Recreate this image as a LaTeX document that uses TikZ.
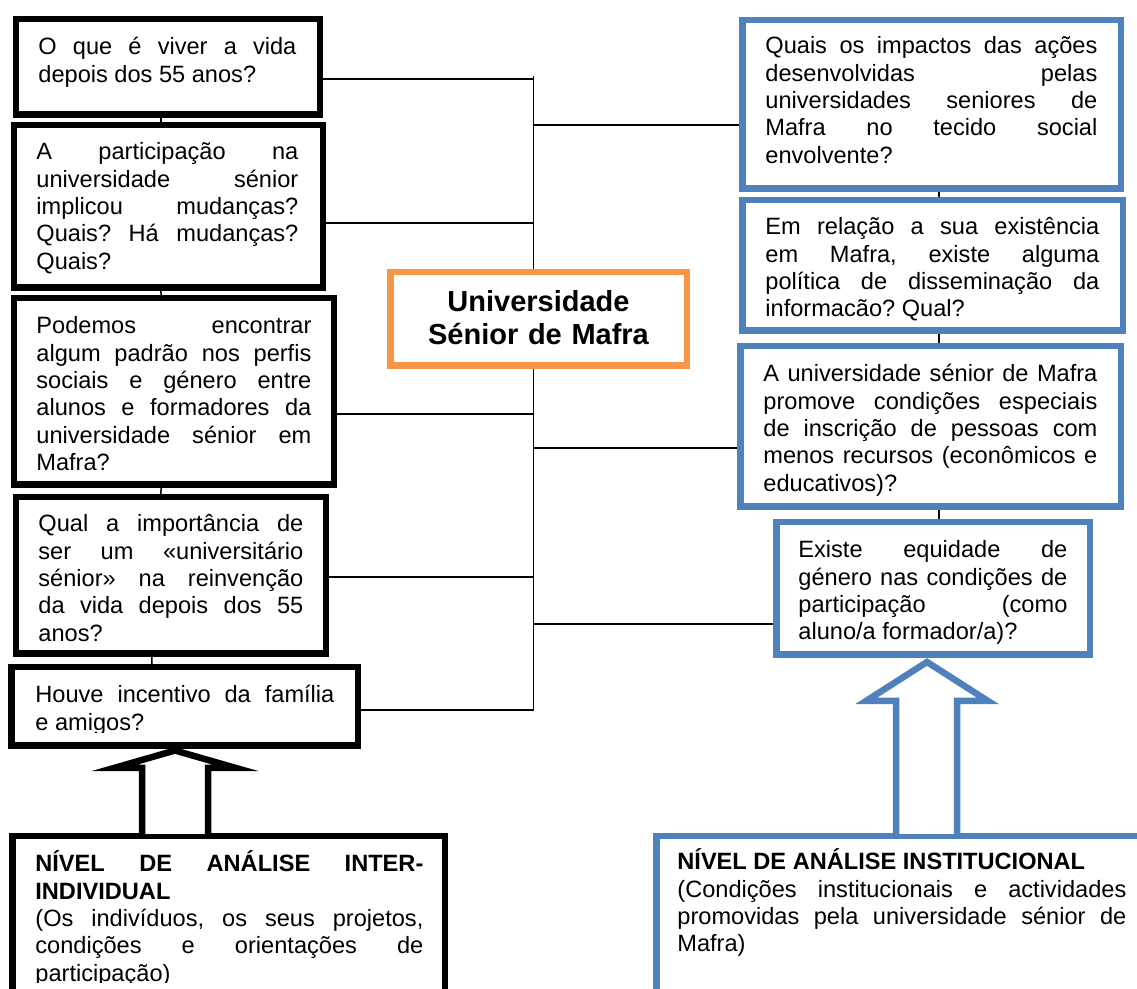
\documentclass[tikz,border=0pt]{standalone}
\usepackage{fontspec}
\setmainfont{Liberation Sans}
\usepackage{xcolor}
\usepackage{tikz}
\usetikzlibrary{calc}
\definecolor{instblue}{RGB}{79,129,189}
\definecolor{huborange}{RGB}{247,150,70}
\newcommand{\qsize}{\fontsize{11.8pt}{13.65pt}\selectfont}
\newcommand{\hubsize}{\fontsize{14.5pt}{16.5pt}\selectfont\bfseries}
\hyphenpenalty=10000
\tolerance=10000
\hbadness=10000
\frenchspacing

\begin{document}
\begin{tikzpicture}[x=0.5pt, y=-0.5pt,
    framebox/.style={rectangle, fill=white, line width=3.25pt, inner sep=0pt},
    qbox/.style={framebox, draw=black},
    ibox/.style={framebox, draw=instblue},
    hubbox/.style={framebox, draw=huborange},
    qtext/.style={anchor=base west, inner sep=0pt, align=justify, font=\qsize},
    link/.style={line width=0.75pt},
    bigarrow/.style={line width=3.25pt, fill=white, line join=miter},
]
    \fill[white] (0,0) rectangle (1137,989);
    \useasboundingbox (0,0) rectangle (1137,989);
    \clip (0,0) rectangle (1137,989);

    % Centre
    \node[hubbox, minimum width=148.25pt, minimum height=46.75pt] (hub) at (538.5,319) {};
    \node[anchor=base, inner sep=0pt, text width=148pt, align=center, font=\hubsize] (hubt) at (538.5,312)
        {Universidade\\Sénior de Mafra};

    % Inter-individual questions (left)
    \node[qbox, minimum width=152pt, minimum height=47.75pt] (b1) at (167.75,67) {};
    \node[qbox, minimum width=154.4pt, minimum height=81.25pt] (b2) at (168.35,206.5) {};
    \node[qbox, minimum width=159.9pt, minimum height=93.25pt] (b3) at (173.85,391.5) {};
    \node[qbox, minimum width=155pt, minimum height=78.25pt] (b4) at (170.75,575.5) {};
    \node[qbox, minimum width=173.25pt, minimum height=39.25pt] (b5) at (184.5,706.5) {};
    \node[qbox, minimum width=216.25pt, minimum height=90.25pt] (bl) at (228.5,926.5) {};

    \node[qtext, text width=129pt] (b1t) at (38,55)
        {O que é viver a vida\linebreak depois dos 55 anos?};
    \node[qtext, text width=131pt] (b2t) at (36,160)
        {A participação na\linebreak universidade sénior\linebreak implicou mudanças?\linebreak Quais? Há mudanças?\linebreak Quais?};
    \node[qtext, text width=137.5pt] (b3t) at (36,334)
        {Podemos encontrar\linebreak algum padrão nos perfis\linebreak sociais e género entre\linebreak alunos e formadores da\linebreak universidade sénior em\linebreak Mafra?};
    \node[qtext, text width=132.5pt] (b4t) at (38,532)
        {Qual a importância de\linebreak ser um «universitário\linebreak sénior» na reinvenção\linebreak da vida depois dos 55\linebreak anos?};
    \begin{scope}
        \clip (0,650) rectangle (400,733);
        \node[qtext, text width=149.5pt] (b5t) at (35,703)
            {Houve incentivo da família\linebreak e amigos?};
    \end{scope}
    \begin{scope}
        \clip (0,840) rectangle (460,983);
        \node[qtext, text width=194pt] (blt) at (35,872)
            {{\bfseries NÍVEL DE ANÁLISE INTER-\linebreak INDIVIDUAL}\par
            (Os indivíduos, os seus projetos,\linebreak condições e orientações de\linebreak participação)};
    \end{scope}

    % Institutional questions (right)
    \node[ibox, minimum width=189.25pt, minimum height=84.25pt] (r1) at (931.5,104.5) {};
    \node[ibox, minimum width=190.25pt, minimum height=65.25pt] (r2) at (932.5,265.5) {};
    \node[ibox, minimum width=190.25pt, minimum height=80.25pt] (r3) at (930.5,426.5) {};
    \node[ibox, minimum width=156.75pt, minimum height=66.25pt] (r4) at (933,588.5) {};
    \node[ibox, minimum width=250.25pt, minimum height=90.25pt] (br) at (906.5,926.5) {};

    \node[qtext, text width=166pt] (r1t) at (765,54)
        {Quais os impactos das ações\linebreak desenvolvidas pelas\linebreak universidades seniores de\linebreak Mafra no tecido social\linebreak envolvente?};
    \node[qtext, text width=167pt] (r2t) at (765,235)
        {Em relação a sua existência\linebreak em Mafra, existe alguma\linebreak política de disseminação da\linebreak informacão? Qual?};
    \node[qtext, text width=167pt] (r3t) at (763,382)
        {A universidade sénior de Mafra\linebreak promove condições especiais\linebreak de inscrição de pessoas com\linebreak menos recursos (econômicos e\linebreak educativos)?};
    \node[qtext, text width=134.5pt] (r4t) at (798,558)
        {Existe equidade de\linebreak género nas condições de\linebreak participação (como\linebreak aluno/a formador/a)?};
    \node[qtext, text width=224.5pt] (brt) at (677,870)
        {{\bfseries NÍVEL DE ANÁLISE INSTITUCIONAL}\par
        (Condições institucionais e actividades\linebreak promovidas pela universidade sénior de\linebreak Mafra)};

    % Trunk and branches
    \coordinate (ttop) at (533.5,76);
    \coordinate (tbot) at (533.5,710);
    \draw[link] (ttop) -- (ttop |- hub.north);
    \draw[link] (tbot |- hub.south) -- (tbot);
    \foreach \n/\s/\t in {b1/-6/ttop, b2/-8.25/ttop, b3/-11.25/tbot, b4/-0.75/tbot, b5/-1.75/tbot}
        \draw[link] ([yshift=\s pt]\n.east) -| (\t);
    \foreach \n/\s/\t in {r1/-10.25/ttop, r3/-10.75/tbot, r4/-17.75/tbot}
        \draw[link] ([yshift=\s pt]\n.west) -| (\t);

    % Short links inside each column
    \foreach \a/\sa/\b/\sb in {b1/-3.4/b2/-3.7, b2/-3.7/b3/-6.4, b3/-6.4/b4/-4.9, b4/-9.4/b5/-16.25,
                               r1/3.75/r2/3.25, r2/3.25/r3/4.25, r3/4.25/r4/3}
        \draw[link] ([xshift=\sa pt]\a.south) -- ([xshift=\sb pt]\b.north);

    % Block arrows
    \draw[bigarrow] (142,834) -- (142,768) -- (114,768) -- (175,750.5) -- (236,768) -- (208,768) -- (208,834);
    \draw[bigarrow, draw=instblue] (896,834) -- (896,701) -- (866,701) -- (927,662) -- (988,701) -- (957,701) -- (957,834);
\end{tikzpicture}
\end{document}
